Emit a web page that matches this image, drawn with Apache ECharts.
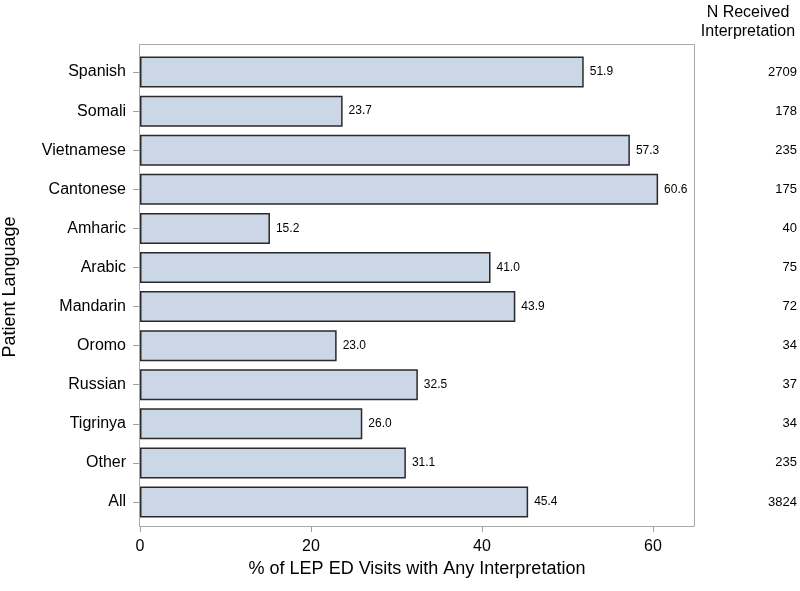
<!DOCTYPE html>
<html>
<head>
<meta charset="utf-8">
<script src="https://cdn.jsdelivr.net/npm/echarts@6/dist/echarts.min.js"></script>
<style>html,body{margin:0;padding:0;background:#fff}#c{width:800px;height:591px}</style>
</head>
<body>
<div id="c"></div>
<script>
const categories = ['Spanish','Somali','Vietnamese','Cantonese','Amharic','Arabic','Mandarin','Oromo','Russian','Tigrinya','Other','All'];
const percentValues = [51.9, 23.7, 57.3, 60.6, 15.2, 41.0, 43.9, 23.0, 32.5, 26.0, 31.1, 45.4];
const nReceived = [2709, 178, 235, 175, 40, 75, 72, 34, 37, 34, 235, 3824];
const xTicks = [0, 20, 40, 60];

const FONT = '"Liberation Sans", Arial, sans-serif';
const chart = echarts.init(document.getElementById('c'), null, {renderer: 'canvas'});
chart.setOption({
  animation: false,
  backgroundColor: '#fff',
  title: {
    text: 'N Received\nInterpretation',
    left: 748, top: 3, padding: 0, textAlign: 'center',
    textStyle: {fontFamily: FONT, fontSize: 16, fontWeight: 'normal', color: '#000', lineHeight: 19}
  },
  graphic: [{
    type: 'rect', silent: true, z: 0,
    shape: {x: 139.5, y: 44.5, width: 555, height: 482},
    style: {fill: 'none', stroke: '#a8a8a8', lineWidth: 1}
  }],
  grid: {left: 140, right: 106, top: 52.5, bottom: 69.5, containLabel: false, outerBoundsMode: 'none'},
  xAxis: {
    type: 'value', min: 0, max: 64.8, interval: 20,
    offset: 4.5,
    axisLine: {show: false},
    axisTick: {show: true, length: 6, customValues: xTicks, lineStyle: {color: '#a0a0a0'}},
    axisLabel: {customValues: xTicks, margin: 13, fontFamily: FONT, fontSize: 16, color: '#000'},
    splitLine: {show: false},
    name: '% of LEP ED Visits with Any Interpretation',
    nameLocation: 'middle', nameGap: 34,
    nameTextStyle: {fontFamily: FONT, fontSize: 18, color: '#000'}
  },
  yAxis: [{
    type: 'category', data: categories, inverse: true,
    axisLine: {show: false},
    axisTick: {show: true, length: 7, alignWithLabel: true, lineStyle: {color: '#a0a0a0'}},
    axisLabel: {margin: 14, fontFamily: FONT, fontSize: 16, color: '#000'},
    name: 'Patient Language', nameLocation: 'middle', nameGap: 121, nameRotate: 90,
    nameTextStyle: {fontFamily: FONT, fontSize: 18, color: '#000'}
  }, {
    type: 'category', data: categories, inverse: true, position: 'right',
    axisLine: {show: false}, axisTick: {show: false},
    axisLabel: {
      margin: 103, align: 'right', fontFamily: FONT, fontSize: 13, color: '#000',
      formatter: function (v, i) { return String(nReceived[i]); }
    }
  }],
  series: [{
    type: 'bar', data: percentValues, yAxisIndex: 0, barWidth: 31,
    itemStyle: {color: '#cbd6e6', borderColor: '#2a2a2a', borderWidth: 1.5},
    label: {
      show: true, position: 'right', distance: 6,
      fontFamily: FONT, fontSize: 12, color: '#000',
      formatter: function (p) { return p.value.toFixed(1); }
    }
  }]
});
</script>
</body>
</html>
